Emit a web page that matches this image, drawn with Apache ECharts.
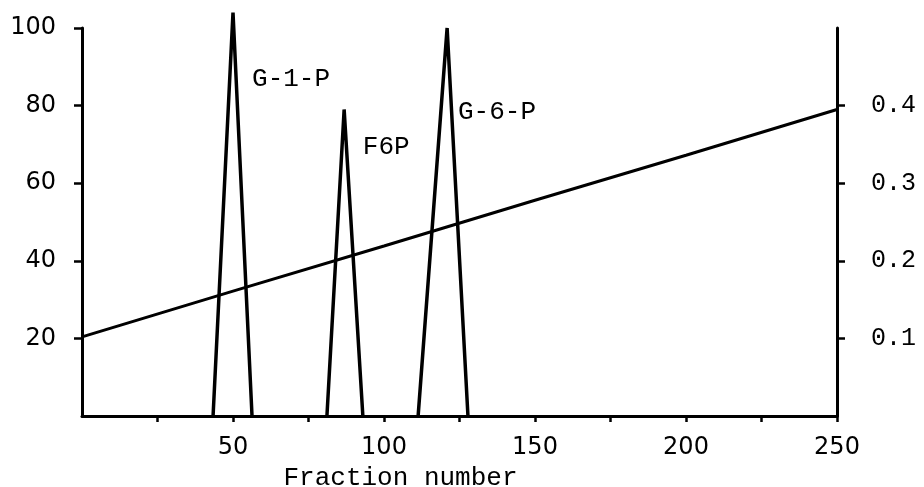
<!DOCTYPE html>
<html>
<head>
<meta charset="utf-8">
<script src="https://cdn.jsdelivr.net/npm/echarts@6/dist/echarts.min.js"></script>
<style>html,body{margin:0;padding:0;background:#fff}#c{width:924px;height:487px}</style>
</head>
<body>
<div id="c"></div>
<script>
// ---- data ----
const xTickValues = [25, 50, 75, 100, 125, 150, 175, 200, 225, 250];
const xLabelValues = [50, 100, 150, 200, 250];
const leftLabelValues = [20, 40, 60, 80, 100];
const rightLabelValues = [0.1, 0.2, 0.3, 0.4];
const peakG1P = [[43.4, 0], [50, 104], [56.3, 0]];
const peakF6P = [[81.1, 0], [86.8, 79], [93, 0]];
const peakG6P = [[111.3, 0], [120.9, 100], [127.8, 0]];
const gradient = [[0, 0.102], [50, 0.161], [100, 0.219], [150, 0.278], [200, 0.336], [250, 0.395]];
const peakNames = ['G-1-P', 'F6P', 'G-6-P'];
const peakLabelAnchors = [[56.3, 86.9], [93, 69.3], [124.5, 78.4]];
const xAxisTitle = 'Fraction number';

const INK = '#000';
const mono = 'Liberation Mono';
const sans = 'DejaVu Sans';

const chart = echarts.init(document.getElementById('c'));
const peakStyle = {type: 'line', symbol: 'none', clip: false, lineStyle: {color: INK, width: 3.5}};

chart.setOption({
  animation: false,
  grid: {left: 82, right: 87, top: 28, bottom: 71, containLabel: false, outerBoundsMode: 'none'},
  xAxis: {
    type: 'value', min: 0, max: 250,
    name: xAxisTitle, nameLocation: 'middle', nameGap: 45,
    nameTextStyle: {fontFamily: mono, fontSize: 26, color: INK, padding: [0, 118, 0, 0]},
    axisLine: {show: true, lineStyle: {color: INK, width: 3}},
    axisTick: {show: true, length: 6, lineStyle: {color: INK, width: 2.5}, customValues: xTickValues},
    axisLabel: {fontFamily: sans, fontSize: 24, color: INK, margin: 20, customValues: xLabelValues},
    splitLine: {show: false}
  },
  yAxis: [{
    type: 'value', min: 0, max: 100, position: 'left',
    axisLine: {show: true, lineStyle: {color: INK, width: 3}},
    axisTick: {show: true, length: 8, lineStyle: {color: INK, width: 2.5}, customValues: leftLabelValues},
    axisLabel: {fontFamily: sans, fontSize: 24, color: INK, margin: 26, customValues: leftLabelValues},
    splitLine: {show: false}
  }, {
    type: 'value', min: 0, max: 0.5, position: 'right',
    axisLine: {show: true, lineStyle: {color: INK, width: 3}},
    axisTick: {show: true, length: 8, lineStyle: {color: INK, width: 2.5}, customValues: rightLabelValues},
    axisLabel: {fontFamily: mono, fontSize: 25, color: INK, margin: 34, customValues: rightLabelValues,
      formatter: v => v.toFixed(1)},
    splitLine: {show: false}
  }],
  series: [
    Object.assign({name: 'G-1-P', data: peakG1P}, peakStyle),
    Object.assign({name: 'F6P', data: peakF6P}, peakStyle),
    Object.assign({name: 'G-6-P', data: peakG6P}, peakStyle),
    {name: 'gradient', type: 'line', yAxisIndex: 1, symbol: 'none', data: gradient,
      lineStyle: {color: INK, width: 3}},
    {name: 'labels', type: 'scatter', symbolSize: 0,
      data: peakNames.map((n, i) => ({name: n, value: peakLabelAnchors[i]})),
      label: {show: true, position: 'right', distance: 0, formatter: p => p.name,
        fontFamily: mono, fontSize: 26, color: INK, opacity: 1}}
  ]
});
</script>
</body>
</html>
